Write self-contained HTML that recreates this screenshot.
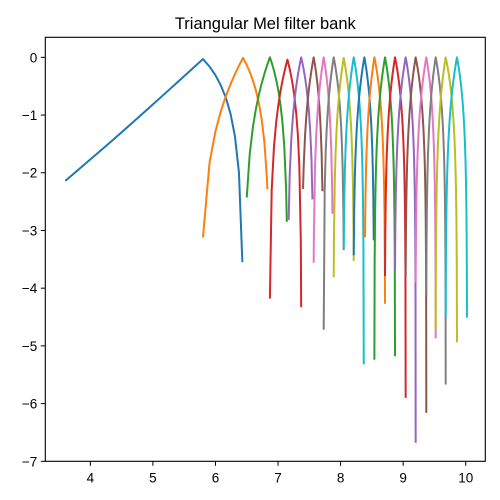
<!DOCTYPE html>
<html><head><meta charset="utf-8"><style>
body{margin:0;background:#fff;}
svg{display:block;font-family:"Liberation Sans","DejaVu Sans",sans-serif;}
</style></head><body>
<svg id="chart" width="500" height="500" viewBox="0 0 500 500">
<text x="265.3" y="29" text-anchor="middle" font-size="16.5" fill="#000">Triangular Mel filter bank</text>
<g id="series"></g>
<rect x="45.3" y="37.3" width="440" height="424" fill="none" stroke="#000" stroke-width="1.1"/>
<g id="xticks"></g>
<g id="yticks"></g>
</svg>
<script>
const startX = [3.60,5.80,6.50,6.87,7.17,7.40,7.57,7.73,7.89,8.05,8.21,8.39,8.54,8.71,8.87,9.04,9.20,9.37,9.52,9.68];
const startY = [-2.14,-3.12,-2.43,-4.18,-2.82,-2.28,-3.56,-4.72,-3.81,-3.29,-3.43,-3.12,-5.24,-3.79,-3.69,-3.79,-3.90,-4.12,-4.73,-4.49];
const peakX = [5.80,6.44,6.87,7.15,7.37,7.57,7.73,7.89,8.05,8.21,8.38,8.54,8.71,8.87,9.04,9.20,9.37,9.52,9.68,9.86];
const peakY = [-0.03,-0.01,0,-0.04,0,0,0,0,-0.01,0,0,0,0,0,0,0,0,0,0,0];
const endX = [6.43,6.83,7.14,7.37,7.55,7.71,7.87,8.05,8.21,8.37,8.53,8.71,8.87,9.04,9.20,9.37,9.52,9.68,9.86,10.02];
const endY = [-3.55,-2.29,-2.85,-4.33,-2.46,-2.32,-2.71,-3.34,-3.53,-5.32,-3.17,-4.27,-5.18,-5.90,-6.68,-6.16,-4.87,-5.67,-4.94,-4.51];
const binHz = 36.7;
const xTicks = [4,5,6,7,8,9,10];
const yTicks = [0,-1,-2,-3,-4,-5,-6,-7];
const colors = ['#1f77b4','#ff7f0e','#2ca02c','#d62728','#9467bd','#8c564b','#e377c2','#7f7f7f','#bcbd22','#17becf'];
const X0=45.3,X1=485.3,Y0=37.3,Y1=461.3,xmin=3.28,xmax=10.313,ymin=-7.0,ymax=0.347;
const sx=v=>X0+(v-xmin)/(xmax-xmin)*(X1-X0);
const sy=v=>Y1-(v-ymin)/(ymax-ymin)*(Y1-Y0);
const NS='http://www.w3.org/2000/svg';
const sg=document.getElementById('series');
for(let k=0;k<startX.length;k++){
  const fs=Math.exp(startX[k]), fc=Math.exp(peakX[k]), fe=Math.exp(endX[k]);
  const h=Math.exp(peakY[k]);
  const ws=Math.exp(startY[k]), we=Math.exp(endY[k]);
  const pts=[[startX[k],startY[k]]];
  const b0=Math.floor(fs/binHz)+1, b1=Math.ceil(fe/binHz)-1;
  let peakAdded=false;
  for(let b=b0;b<=b1;b++){
    const f=b*binHz;
    if(f<=fs+1||f>=fe-1) continue;
    if(!peakAdded && f>=fc){ pts.push([peakX[k],peakY[k]]); peakAdded=true; if(Math.abs(f-fc)<4) continue; }
    const w = f<=fc ? ws+(h-ws)*(f-fs)/(fc-fs) : h+(we-h)*(f-fc)/(fe-fc);
    pts.push([Math.log(f),Math.log(w)]);
  }
  if(!peakAdded) pts.push([peakX[k],peakY[k]]);
  pts.push([endX[k],endY[k]]);
  const p=document.createElementNS(NS,'polyline');
  p.setAttribute('points',pts.map(q=>sx(q[0]).toFixed(2)+','+sy(q[1]).toFixed(2)).join(' '));
  p.setAttribute('fill','none');
  p.setAttribute('stroke',colors[k%10]);
  p.setAttribute('stroke-width','2');
  p.setAttribute('stroke-linejoin','round');
  
  
  sg.appendChild(p);
}
const xg=document.getElementById('xticks');
xTicks.forEach(t=>{
  const x=sx(t);
  const l=document.createElementNS(NS,'line');
  l.setAttribute('x1',x);l.setAttribute('x2',x);l.setAttribute('y1',Y1);l.setAttribute('y2',Y1+4.5);
  l.setAttribute('stroke','#000');l.setAttribute('stroke-width','1');
  
  
  xg.appendChild(l);
  const tx=document.createElementNS(NS,'text');
  tx.setAttribute('x',x);tx.setAttribute('y',Y1+21);tx.setAttribute('text-anchor','middle');
  tx.setAttribute('font-size','13.5');tx.textContent=t;
  
  
  xg.appendChild(tx);
});
const yg=document.getElementById('yticks');
yTicks.forEach(t=>{
  const y=sy(t);
  const l=document.createElementNS(NS,'line');
  l.setAttribute('x1',X0-4.5);l.setAttribute('x2',X0);l.setAttribute('y1',y);l.setAttribute('y2',y);
  l.setAttribute('stroke','#000');l.setAttribute('stroke-width','1');
  
  
  yg.appendChild(l);
  const tx=document.createElementNS(NS,'text');
  tx.setAttribute('x',X0-8);tx.setAttribute('y',y+5);tx.setAttribute('text-anchor','end');
  tx.setAttribute('font-size','13.5');tx.textContent=t<0?'\u2212'+(-t):String(t);
  
  
  yg.appendChild(tx);
});
</script>
</body></html>
